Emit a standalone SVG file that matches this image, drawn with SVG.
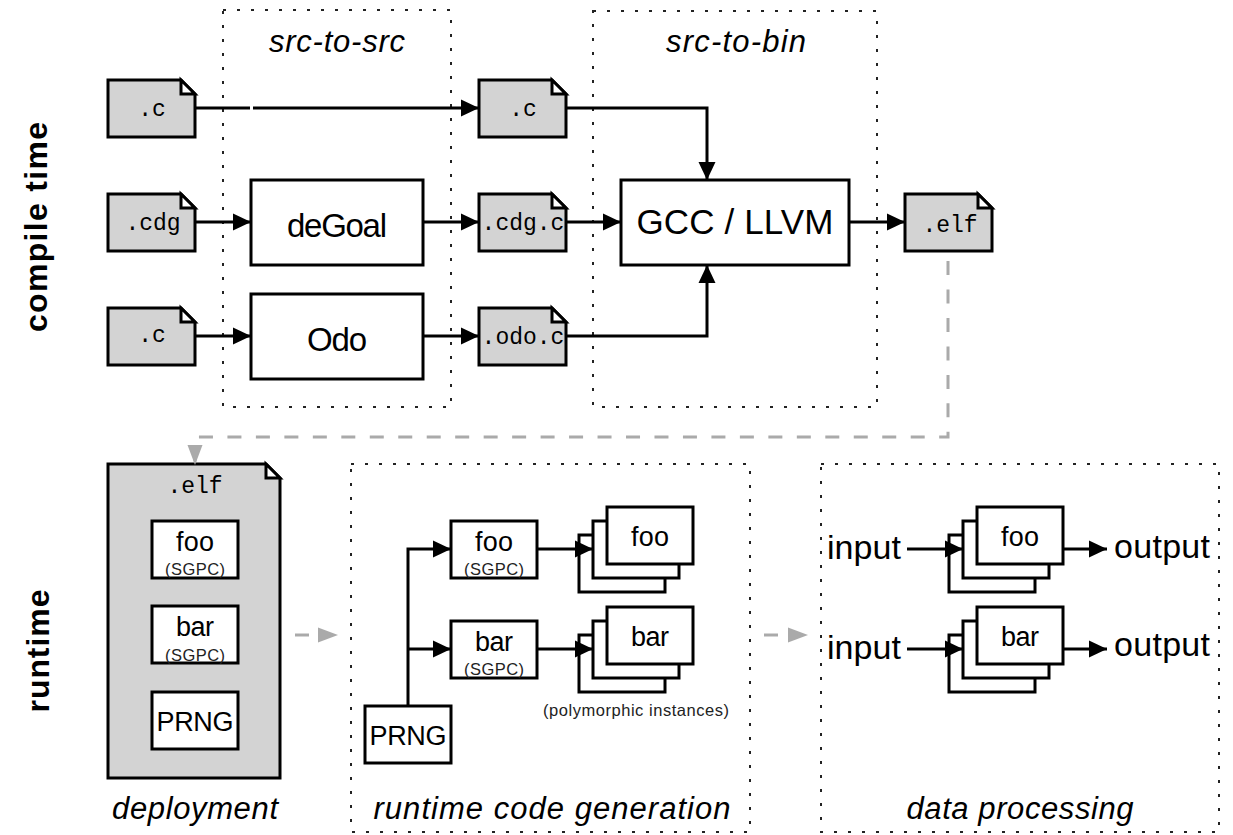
<svg xmlns="http://www.w3.org/2000/svg" xmlns:xlink="http://www.w3.org/1999/xlink" width="1233" height="835" viewBox="0 0 1233 835">
<style>
text{font-family:"Liberation Sans",Arial,sans-serif;fill:#000;text-anchor:middle}
.m{font-family:"Liberation Mono","Courier New",monospace;font-size:23px}
.i{font-style:italic;font-size:31px}
.b{font-weight:bold;font-size:32px}
.l{font-size:33px}
.w{font-size:34px}
.s{font-size:16.5px;fill:#222}
.f{font-size:27px}
.d{fill:none;stroke:#222;stroke-width:2;stroke-dasharray:3 11}
.box{fill:#fff;stroke:#000;stroke-width:3;stroke-linejoin:miter}
.file{fill:#d3d3d3;stroke:#000;stroke-width:3;stroke-linejoin:miter}
.fold{fill:#fff;stroke:#000;stroke-width:3;stroke-linejoin:miter}
.c{fill:none;stroke:#000;stroke-width:3;marker-end:url(#a)}
.g{fill:none;stroke:#aaa;stroke-width:3;marker-end:url(#ag)}
</style>
<defs>
<marker id="a" markerUnits="userSpaceOnUse" markerWidth="20" markerHeight="18" refX="18" refY="9" orient="auto"><path d="M0 0.5L18 9L0 17.5Z" fill="#000"/></marker>
<marker id="ag" markerUnits="userSpaceOnUse" markerWidth="21" markerHeight="16" refX="20" refY="8" orient="auto"><path d="M0 0.5L20 8L0 15.5Z" fill="#aaa"/></marker>
<g id="file"><path class="file" d="M0 0H73L87 14V57H0Z"/><path class="fold" d="M73 0L87 14H73Z"/></g>
<g id="stack"><rect class="box" x="0" y="28" width="86" height="57"/><rect class="box" x="14" y="14" width="86" height="57"/><rect class="box" x="28" y="0" width="86" height="57"/></g>
</defs>

<text class="b" transform="translate(47 227) rotate(-90)" textLength="210">compile time</text>
<text class="b" transform="translate(49 651) rotate(-90)" textLength="123">runtime</text>

<g id="src-to-src"><rect class="d" x="223" y="10" width="228" height="397"/><text class="i" x="337" y="52" textLength="136">src-to-src</text></g>
<g id="src-to-bin"><rect class="d" x="593" y="11" width="284" height="396"/><text class="i" x="736" y="52" textLength="140">src-to-bin</text></g>
<g id="rcg-frame"><rect class="d" x="351" y="464" width="399" height="368"/><text class="i" x="552" y="819" textLength="357">runtime code generation</text></g>
<g id="dp-frame"><rect class="d" x="821" y="464" width="398" height="368"/><text class="i" x="1020" y="819" textLength="227">data processing</text></g>

<g id="file-c1"><use href="#file" x="108" y="80"/><text class="m" x="152" y="116">.c</text></g>
<g id="file-cdg"><use href="#file" x="108" y="194"/><text class="m" x="153" y="230">.cdg</text></g>
<g id="file-c2"><use href="#file" x="108" y="308"/><text class="m" x="152" y="342">.c</text></g>
<g id="file-c3"><use href="#file" x="479" y="80"/><text class="m" x="523" y="116">.c</text></g>
<g id="file-cdgc"><use href="#file" x="479" y="194"/><text class="m" x="523" y="230">.cdg.c</text></g>
<g id="file-odoc"><use href="#file" x="479" y="308"/><text class="m" x="523" y="344">.odo.c</text></g>
<g id="file-elf"><use href="#file" x="905" y="194"/><text class="m" x="950" y="232">.elf</text></g>

<g id="degoal"><rect class="box" x="251" y="180" width="172" height="85"/><text class="l" x="337" y="237" textLength="100">deGoal</text></g>
<g id="odo"><rect class="box" x="251" y="294" width="172" height="85"/><text class="l" x="337" y="351" textLength="60">Odo</text></g>
<g id="gcc"><rect class="box" x="621" y="180" width="228" height="85"/><text class="l" style="font-size:35px" x="735" y="234" textLength="197">GCC / LLVM</text></g>

<g id="elf-big">
<path class="file" d="M108 464H266L280 478V778H108Z"/><path class="fold" d="M266 464L280 478H266Z"/>
<text class="m" x="195" y="493">.elf</text>
<rect class="box" x="152" y="521" width="86" height="57"/><text class="f" x="195" y="551" textLength="38">foo</text><text class="s" x="195" y="575" textLength="60">(SGPC)</text>
<rect class="box" x="152" y="606" width="86" height="57"/><text class="f" x="195" y="636" textLength="38">bar</text><text class="s" x="195" y="661" textLength="60">(SGPC)</text>
<rect class="box" x="152" y="692" width="86" height="57"/><text class="f" x="195" y="731" textLength="77">PRNG</text>
</g>
<text class="i" x="195" y="819" textLength="166">deployment</text>

<g id="rcg-foo"><rect class="box" x="451" y="521" width="86" height="57"/><text class="f" x="494" y="551" textLength="38">foo</text><text class="s" x="494" y="575" textLength="60">(SGPC)</text></g>
<g id="rcg-bar"><rect class="box" x="451" y="621" width="86" height="57"/><text class="f" x="494" y="651" textLength="38">bar</text><text class="s" x="494" y="675" textLength="60">(SGPC)</text></g>
<g id="rcg-prng"><rect class="box" x="365" y="706" width="86" height="57"/><text class="f" x="408" y="745" textLength="77">PRNG</text></g>
<g id="rcg-foo-stack"><use href="#stack" x="579" y="507"/><text class="f" x="650" y="546" textLength="38">foo</text></g>
<g id="rcg-bar-stack"><use href="#stack" x="579" y="607"/><text class="f" x="650" y="646" textLength="38">bar</text></g>
<text class="s" x="636" y="716" textLength="186">(polymorphic instances)</text>

<g id="dp-foo-stack"><use href="#stack" x="949" y="507"/><text class="f" x="1020" y="546" textLength="38">foo</text></g>
<g id="dp-bar-stack"><use href="#stack" x="949" y="607"/><text class="f" x="1020" y="646" textLength="38">bar</text></g>
<text class="w" x="864" y="559" textLength="74">input</text>
<text class="w" x="864" y="659" textLength="74">input</text>
<text class="w" x="1162" y="558" textLength="96">output</text>
<text class="w" x="1162" y="656" textLength="96">output</text>

<g id="connectors">
<path class="c" d="M195 108H250M253 108H479"/>
<path class="c" d="M565 108H707V180"/>
<path class="c" d="M195 222H251"/>
<path class="c" d="M423 222H479"/>
<path class="c" d="M565 222H621"/>
<path class="c" d="M195 336H251"/>
<path class="c" d="M423 336H479"/>
<path class="c" d="M565 336H707V265"/>
<path class="c" d="M849 222H905"/>
<path class="c" d="M408 706V549H451"/>
<path class="c" d="M408 649H451"/>
<path class="c" d="M537 549H593"/>
<path class="c" d="M537 649H593"/>
<path class="c" d="M907 549H963"/>
<path class="c" d="M907 649H963"/>
<path class="c" d="M1063 549H1107"/>
<path class="c" d="M1063 649H1107"/>
<path class="g" stroke-dasharray="14 14.47" d="M948 261V437H195V465"/>
<path class="g" stroke-dasharray="14 30" d="M295 635H338"/>
<path class="g" stroke-dasharray="14 30" d="M764 635H808"/>
</g>
</svg>
